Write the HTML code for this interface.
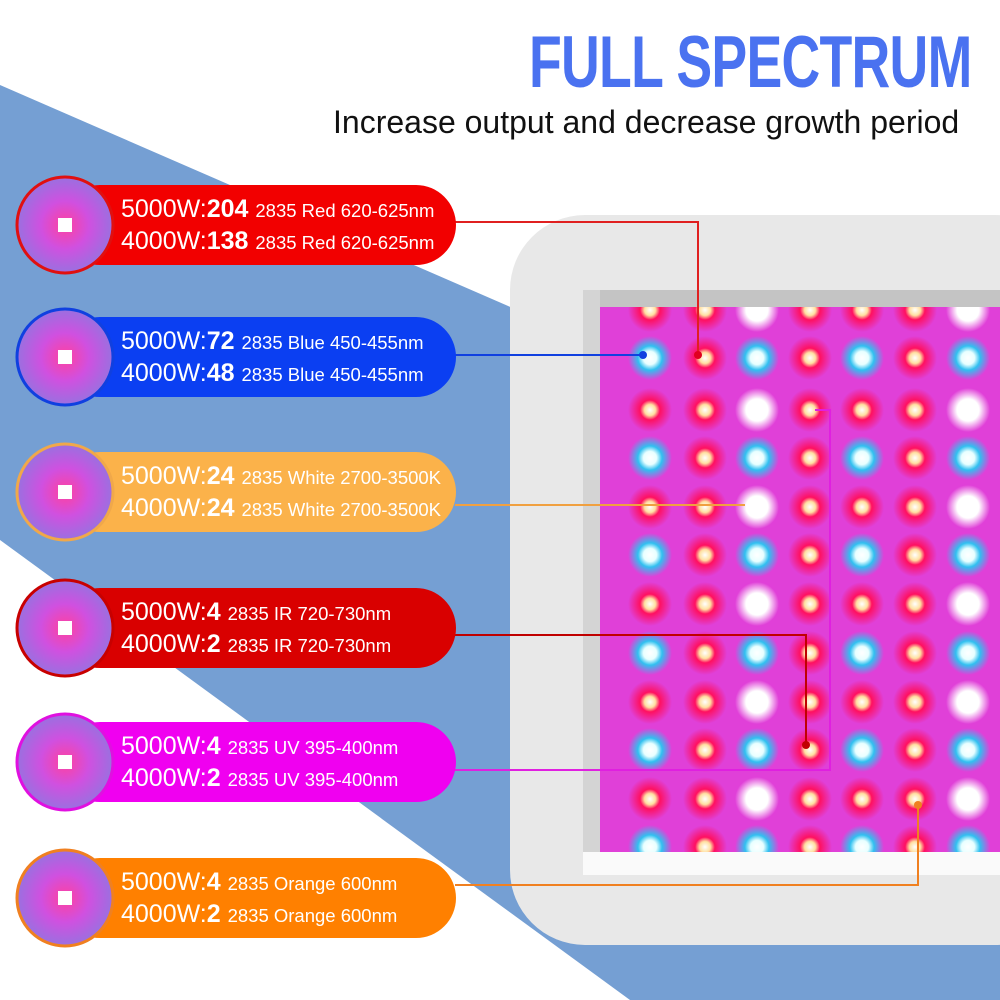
<!DOCTYPE html>
<html><head><meta charset="utf-8"><style>
html,body{margin:0;padding:0;background:#fff}
body{width:1000px;height:1000px;position:relative;overflow:hidden;font-family:"Liberation Sans",sans-serif}
.t{position:absolute;white-space:nowrap}
</style></head><body>
<svg width="1000" height="1000" style="position:absolute;left:0;top:0">
<defs>
<radialGradient id="gb"><stop offset="0" stop-color="#fff"/><stop offset="0.3" stop-color="#e8ffff"/><stop offset="0.55" stop-color="#30c0f0"/><stop offset="1" stop-color="#30c0f0" stop-opacity="0"/></radialGradient>
<radialGradient id="gr"><stop offset="0" stop-color="#fff"/><stop offset="0.25" stop-color="#ffe0a0"/><stop offset="0.45" stop-color="#ff1060"/><stop offset="1" stop-color="#ff1060" stop-opacity="0"/></radialGradient>
<radialGradient id="gw"><stop offset="0" stop-color="#fff"/><stop offset="0.5" stop-color="#fff"/><stop offset="1" stop-color="#fff" stop-opacity="0"/></radialGradient>
<radialGradient id="gc" cx="0.5" cy="0.5"><stop offset="0" stop-color="#ff40a0"/><stop offset="0.5" stop-color="#d050e0"/><stop offset="1" stop-color="#9a70e0"/></radialGradient>
<clipPath id="cl"><rect x="600" y="307" width="400" height="545"/></clipPath>
</defs>
<polygon points="0,85 1000,520 1000,1000 630,1000 0,540" fill="#759fd3"/>
<rect x="510" y="215" width="560" height="730" rx="75" fill="#e8e8e8"/>
<rect x="583" y="290" width="420" height="585" fill="#fafafa"/>
<rect x="583" y="290" width="420" height="17" fill="#c4c4c4"/>
<rect x="583" y="290" width="17" height="562" fill="#d4d4d4"/>
<rect x="600" y="307" width="400" height="545" fill="#e040d8"/>
<g clip-path="url(#cl)" id="leds"></g>
<g fill="none" stroke-width="2">
<polyline points="455,222 698,222 698,355" stroke="#e02020"/>
<polyline points="455,355 640,355" stroke="#1040e0"/>
<polyline points="455,505 745,505" stroke="#f0a040"/>
<polyline points="455,635 806,635 806,745" stroke="#c00000"/>
<polyline points="455,770 830,770 830,410 815,410" stroke="#e020e0"/>
<polyline points="455,885 918,885 918,805" stroke="#f08020"/>
</g>
<circle cx="698" cy="355" r="4" fill="#e00020"/><circle cx="643" cy="355" r="4" fill="#1040e0"/>
<circle cx="806" cy="745" r="4" fill="#c00000"/><circle cx="918" cy="805" r="4" fill="#f08020"/>
<g id="pills"></g>
</svg>
<div class="t" style="left:529px;top:21px;font-size:73px;font-weight:bold;color:#4a72f0;transform:scaleX(0.735);transform-origin:0 0;letter-spacing:-1px">FULL SPECTRUM</div>
<div class="t" style="left:333px;top:104px;font-size:32px;color:#111;transform:scaleX(1.0);transform-origin:0 0">Increase output and decrease growth period</div>
<div id="txt"></div>
<script>
var ns="http://www.w3.org/2000/svg";
var g=document.getElementById('leds');
var cols=[650,705,757,810,862,915,968],rows=[310,358,410,458,507,555,604,653,702,750,799,847];
function c(x,y,r,f){var e=document.createElementNS(ns,'circle');e.setAttribute('cx',x);e.setAttribute('cy',y);e.setAttribute('r',r);e.setAttribute('fill',f);g.appendChild(e);}
rows.forEach(function(y,i){cols.forEach(function(x,j){
 var t; if(i%2==1){t=(j%2==0)?'b':'r';}else{t=(j==2||j==6)?'w':'r';}
 c(x,y,22,t=='b'?'url(#gb)':t=='w'?'url(#gw)':'url(#gr)');
 if(t=='w')c(x,y,9,'#fff');});});
var P=[[225,'#f20000','#e01010','204','138','2835 Red 620-625nm'],
[357,'#0b3ff2','#1040e0','72','48','2835 Blue 450-455nm'],
[492,'#fbb24a','#f0a84a','24','24','2835 White 2700-3500K'],
[628,'#d90000','#c80000','4','2','2835 IR 720-730nm'],
[762,'#f000f0','#e010e0','4','2','2835 UV 395-400nm'],
[898,'#ff8000','#f08020','4','2','2835 Orange 600nm']];
var pg=document.getElementById('pills'),h='';
P.forEach(function(p){var y=p[0];
 var r=document.createElementNS(ns,'rect');r.setAttribute('x',60);r.setAttribute('y',y-40);r.setAttribute('width',396);r.setAttribute('height',80);r.setAttribute('rx',40);r.setAttribute('fill',p[1]);pg.appendChild(r);
 var e=document.createElementNS(ns,'circle');e.setAttribute('cx',65);e.setAttribute('cy',y);e.setAttribute('r',48);e.setAttribute('fill','url(#gc)');e.setAttribute('stroke',p[2]);e.setAttribute('stroke-width',3);pg.appendChild(e);
 var d=document.createElementNS(ns,'rect');d.setAttribute('x',58);d.setAttribute('y',y-7);d.setAttribute('width',14);d.setAttribute('height',14);d.setAttribute('fill','#fff');pg.appendChild(d);
 h+='<div class="t" style="left:121px;top:'+(y-31)+'px;color:#fff;font-size:25px;line-height:30px"><span>5000W:</span><b>'+p[3]+'</b> <span style="font-size:18.5px">'+p[5]+'</span><br><span>4000W:</span><b>'+p[4]+'</b> <span style="font-size:18.5px">'+p[5]+'</span></div>';
});
document.getElementById('txt').innerHTML=h;
</script>
</body></html>
